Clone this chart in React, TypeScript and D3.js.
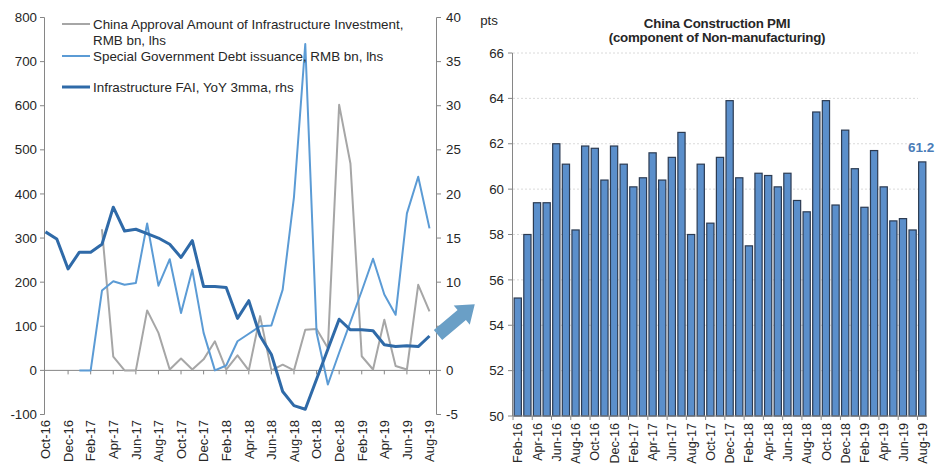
import React from 'react';
import * as d3 from 'd3';

const leftMonths = ['Oct-16','Nov-16','Dec-16','Jan-17','Feb-17','Mar-17','Apr-17','May-17','Jun-17','Jul-17','Aug-17','Sep-17','Oct-17','Nov-17','Dec-17','Jan-18','Feb-18','Mar-18','Apr-18','May-18','Jun-18','Jul-18','Aug-18','Sep-18','Oct-18','Nov-18','Dec-18','Jan-19','Feb-19','Mar-19','Apr-19','May-19','Jun-19','Jul-19','Aug-19'];
const approval: (number | null)[] = [null,null,null,null,null,320,31,0,0,136,85,2,27,2,25,66,2,34,0,123,0,13,0,92,94,51,602,469,32,2,115,10,2,194,134];
const specialDebt: (number | null)[] = [null,null,null,0,0,181,202,194,198,333,192,252,130,228,85,0,11,66,83,100,102,183,393,740,86,-32,40,110,180,253,172,126,356,439,322];
const infraFAI: number[] = [15.7,14.9,11.5,13.4,13.4,14.3,18.5,15.8,16.0,15.5,15.0,14.3,12.8,14.7,9.5,9.5,9.4,5.9,7.9,3.9,1.8,-2.4,-4.0,-4.4,-1.0,2.4,5.8,4.6,4.6,4.5,2.9,2.7,2.8,2.7,3.9];
const leftTicks = [-100,0,100,200,300,400,500,600,700,800];
const rightTicks = [-5,0,5,10,15,20,25,30,35,40];

const pmiMonths = ['Feb-16','Mar-16','Apr-16','May-16','Jun-16','Jul-16','Aug-16','Sep-16','Oct-16','Nov-16','Dec-16','Jan-17','Feb-17','Mar-17','Apr-17','May-17','Jun-17','Jul-17','Aug-17','Sep-17','Oct-17','Nov-17','Dec-17','Jan-18','Feb-18','Mar-18','Apr-18','May-18','Jun-18','Jul-18','Aug-18','Sep-18','Oct-18','Nov-18','Dec-18','Jan-19','Feb-19','Mar-19','Apr-19','May-19','Jun-19','Jul-19','Aug-19'];
const pmi: number[] = [55.2,58.0,59.4,59.4,62.0,61.1,58.2,61.9,61.8,60.4,61.9,61.1,60.1,60.5,61.6,60.4,61.4,62.5,58.0,61.1,58.5,61.4,63.9,60.5,57.5,60.7,60.6,60.1,60.7,59.5,59.0,63.4,63.9,59.3,62.6,60.9,59.2,61.7,60.1,58.6,58.7,58.2,61.2];
const pmiTicks = [50,52,54,56,58,60,62,64,66];

const legendItems = [
  { lines: ['China Approval Amount of Infrastructure Investment,', 'RMB bn, lhs'], color: '#a6a6a6', w: 2 },
  { lines: ['Special Government Debt issuance, RMB bn, lhs'], color: '#5b9bd5', w: 2 },
  { lines: ['Infrastructure FAI, YoY 3mma, rhs'], color: '#2f6aa8', w: 3 },
];

const FONT = '"Liberation Sans", Arial, sans-serif';
const TXT = '#262626';
const AX = '#868686';

export default function App() {
  const x = d3.scaleLinear().domain([0, leftMonths.length - 1]).range([45.5, 429.5]);
  const yL = d3.scaleLinear().domain([-100, 800]).range([414.5, 17.5]);
  const yR = d3.scaleLinear().domain([-5, 40]).range([414.5, 17.5]);
  const lineL = d3.line<number | null>().defined(d => d !== null).x((_, i) => x(i)).y(d => yL(d as number));
  const lineR = d3.line<number>().x((_, i) => x(i)).y(d => yR(d));

  const xb = d3.scaleBand<number>().domain(pmi.map((_, i) => i)).range([513, 927]).paddingInner(0.25).paddingOuter(0.12);
  const yP = d3.scaleLinear().domain([50, 66]).range([416, 53]);
  const step = xb.step();

  const L = 48, hw = 6.5, hh = 12.5, hl = 17;
  const arrowPts = [[0, -hw], [L - hl, -hw], [L - hl, -hh], [L, 0], [L - hl, hh], [L - hl, hw], [0, hw]].map(p => p.join(',')).join(' ');

  return (
    <svg width={936} height={468} style={{ position: 'absolute', left: 0, top: 0, background: '#fff' }} fontFamily={FONT}>
      <line x1={44.5} x2={44.5} y1={yL(800)} y2={yL(-100)} stroke={AX} strokeWidth={1} />
      <line x1={436.5} x2={436.5} y1={yR(40)} y2={yR(-5)} stroke={AX} strokeWidth={1} />
      {leftTicks.map(t => (
        <g key={'lt' + t}>
          <line x1={40} x2={44.5} y1={yL(t)} y2={yL(t)} stroke={AX} />
          <text x={37} y={yL(t)} dy="0.35em" textAnchor="end" fontSize={13.3} fill={TXT}>{t}</text>
        </g>
      ))}
      {rightTicks.map(t => (
        <g key={'rt' + t}>
          <line x1={436.5} x2={441} y1={yR(t)} y2={yR(t)} stroke={AX} />
          <text x={446} y={yR(t)} dy="0.35em" textAnchor="start" fontSize={13.3} fill={TXT}>{t}</text>
        </g>
      ))}
      <line x1={44.5} x2={436.5} y1={yL(0)} y2={yL(0)} stroke={AX} />
      {leftMonths.map((m, i) => i % 2 === 0 ? (
        <g key={'lx' + m}>
          {i > 0 && <line x1={x(i)} x2={x(i)} y1={yL(0)} y2={yL(0) + 4} stroke={AX} />}
          <text transform={`translate(${x(i) + 4.8},420) rotate(-90)`} textAnchor="end" fontSize={13} fill={TXT}>{m}</text>
        </g>
      ) : null)}
      <path d={lineL(approval) || ''} fill="none" stroke="#a6a6a6" strokeWidth={2} strokeLinejoin="round" />
      <path d={lineL(specialDebt) || ''} fill="none" stroke="#5b9bd5" strokeWidth={2} strokeLinejoin="round" />
      <path d={lineR(infraFAI) || ''} fill="none" stroke="#2f6aa8" strokeWidth={3} strokeLinejoin="round" />
      {legendItems.map((it, k) => {
        const ys = [24, 56, 87][k];
        return (
          <g key={'lg' + k}>
            <line x1={62} x2={90} y1={ys} y2={ys} stroke={it.color} strokeWidth={it.w} />
            {it.lines.map((ln, j) => (
              <text key={j} x={93} y={ys + j * 16} dy="0.35em" fontSize={13.4} fill={TXT}>{ln}</text>
            ))}
          </g>
        );
      })}
      <polygon points={arrowPts} fill="#6a9fc6" transform="translate(438,335) rotate(-40)" />

      {pmiTicks.filter(t => t > 50).map(t => (
        <line key={'g' + t} x1={513} x2={918} y1={yP(t)} y2={yP(t)} stroke="#d0d0d0" strokeDasharray="2,2" strokeWidth={0.8} />
      ))}
      {pmi.map((v, i) => (
        <rect key={'b' + i} x={xb(i)} y={yP(v)} width={xb.bandwidth()} height={yP(50) - yP(v)} fill="#5b8fcb" stroke="#2c3b52" strokeWidth={1.2} />
      ))}
      <line x1={512.5} x2={512.5} y1={yP(66)} y2={yP(50)} stroke={AX} />
      <line x1={512.5} x2={927} y1={yP(50)} y2={yP(50)} stroke={AX} />
      {pmiTicks.map(t => (
        <g key={'pt' + t}>
          <line x1={508} x2={512.5} y1={yP(t)} y2={yP(t)} stroke={AX} />
          <text x={504} y={yP(t)} dy="0.35em" textAnchor="end" fontSize={13.3} fill={TXT}>{t}</text>
        </g>
      ))}
      {pmiMonths.map((m, i) => i % 2 === 0 ? (
        <g key={'px' + m}>
          <line x1={513 + i * step} x2={513 + i * step} y1={yP(50)} y2={yP(50) + 4} stroke={AX} />
          <text transform={`translate(${(xb(i) as number) + xb.bandwidth() / 2 + 4.6},423) rotate(-90)`} textAnchor="end" fontSize={12.6} fill={TXT}>{m}</text>
        </g>
      ) : null)}
      <text x={489} y={20} dy="0.35em" textAnchor="middle" fontSize={13.3} fill={TXT}>pts</text>
      <text x={717} y={23} dy="0.35em" textAnchor="middle" fontSize={13.3} fontWeight="bold" fill={TXT} letterSpacing={-0.2}>China Construction PMI</text>
      <text x={717} y={37.5} dy="0.35em" textAnchor="middle" fontSize={13.3} fontWeight="bold" fill={TXT} letterSpacing={-0.2}>(component of Non-manufacturing)</text>
      <text x={(xb(pmi.length - 1) as number) + xb.bandwidth() / 2 - 1} y={147} dy="0.35em" textAnchor="middle" fontSize={13.5} fontWeight="bold" fill="#4a7cb8">{pmi[pmi.length - 1].toFixed(1)}</text>
    </svg>
  );
}
